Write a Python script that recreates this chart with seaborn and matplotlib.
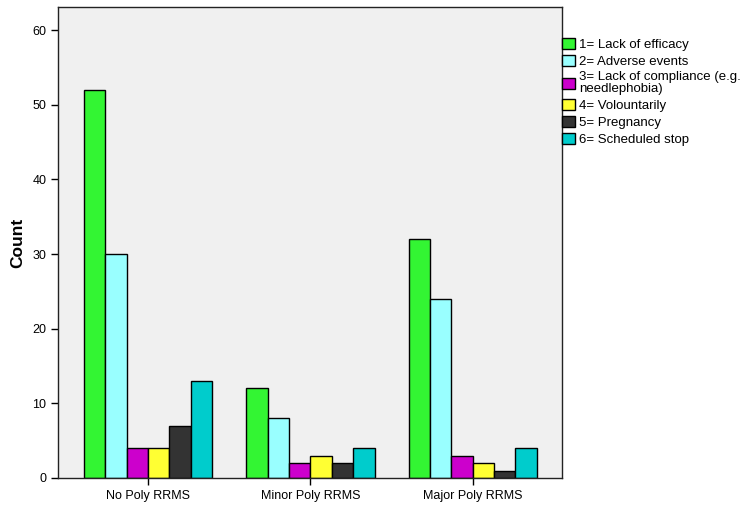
import pandas as pd
import seaborn as sns
import matplotlib
matplotlib.use("Agg")
from matplotlib import pyplot as plt

# groups on the x axis
groups = ["No Poly RRMS", "Minor Poly RRMS", "Major Poly RRMS"]

# reasons for stopping (legend entries)
reasons = [
    "1= Lack of efficacy",
    "2= Adverse events",
    "3= Lack of compliance (e.g.\nneedlephobia)",
    "4= Volountarily",
    "5= Pregnancy",
    "6= Scheduled stop",
]

# counts per reason, one value per group
lack_of_efficacy = [52, 12, 32]
adverse_events = [30, 8, 24]
lack_of_compliance = [4, 2, 3]
voluntarily = [4, 3, 2]
pregnancy = [7, 2, 1]
scheduled_stop = [13, 4, 4]

colors = ["#33f533", "#99ffff", "#cc00cc", "#ffff33", "#333333", "#00cccc"]

counts = [lack_of_efficacy, adverse_events, lack_of_compliance,
          voluntarily, pregnancy, scheduled_stop]
rows = []
for reason, vals in zip(reasons, counts):
    for g, v in zip(groups, vals):
        rows.append({"group": g, "reason": reason, "count": v})
df = pd.DataFrame(rows)

sns.set_style("ticks")
plt.rcParams["font.family"] = ["Liberation Sans", "DejaVu Sans"]
plt.rcParams["text.color"] = "black"
plt.rcParams["xtick.color"] = "black"
plt.rcParams["ytick.color"] = "black"

fig = plt.figure(figsize=(7.51, 5.07), dpi=100)
ax = fig.add_axes([58 / 751, 1 - 478 / 507, 504 / 751, 471 / 507])
ax.set_facecolor("#f0f0f0")

sns.barplot(data=df, x="group", y="count", hue="reason", order=groups,
            hue_order=reasons, palette=colors, width=0.79, gap=0,
            edgecolor="black", linewidth=1.0, saturation=1, ax=ax)

ax.set_xlim(-0.555, 2.55)
ax.set_ylim(0, 63.1)
ax.set_yticks(range(0, 61, 10))
ax.set_xlabel("")
ax.set_ylabel("Count", fontsize=12.5, fontweight="bold", labelpad=5,
              color="black")
ax.tick_params(axis="both", labelsize=9, length=5, width=1, color="black",
               direction="out", labelcolor="black")
for s in ax.spines.values():
    s.set_visible(True)
    s.set_color("#222222")
    s.set_linewidth(1)

handles, labels = ax.get_legend_handles_labels()
leg = ax.legend(handles, labels, loc="upper left", bbox_to_anchor=(1.0, 0.935),
                frameon=False, borderaxespad=0, borderpad=0, fontsize=9.5,
                handlelength=1.0, handleheight=0.95, handletextpad=0.3,
                labelspacing=0.28)
for t in leg.get_texts():
    t.set_linespacing(0.95)

fig.savefig("out.png", dpi=100, facecolor="white")
